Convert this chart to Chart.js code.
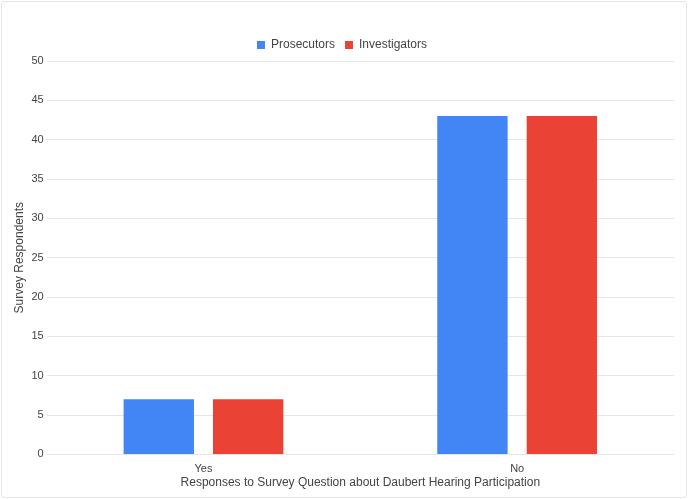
<!DOCTYPE html>
<html>
<head>
<meta charset="utf-8">
<script src="https://cdn.jsdelivr.net/npm/chart.js@4"></script>
<style>
  html, body { margin: 0; padding: 0; background: #fff; }
  #wrap { width: 684px; height: 495px; margin: 1px; border: 1px solid #e6e6e6; border-radius: 3px; position: relative; }
</style>
</head>
<body>
<div id="wrap"><canvas id="myChart"></canvas></div>
<script>
const categories = ["Yes", "No"];
const prosecutors = [7, 43];
const investigators = [7, 43];
const yTicks = [0, 5, 10, 15, 20, 25, 30, 35, 40, 45, 50];

const textColor = "#444";
Chart.defaults.font.family = "'Liberation Sans', Arial, sans-serif";
Chart.defaults.font.size = 11;
Chart.defaults.color = textColor;

const ctx = document.getElementById("myChart").getContext("2d");
const myChart = new Chart(ctx, {
    type: "bar",
    data: {
        labels: categories,
        datasets: [{
            label: "Prosecutors",
            data: prosecutors,
            backgroundColor: "#4285F4",
            categoryPercentage: 0.57,
            barPercentage: 0.787,
        }, {
            label: "Investigators",
            data: investigators,
            backgroundColor: "#EA4335",
            categoryPercentage: 0.57,
            barPercentage: 0.787,
        }],
    },
    options: {
        responsive: true,
        maintainAspectRatio: false,
        animation: false,
        layout: { padding: { top: 27, right: 12, left: 8, bottom: 7 } },
        plugins: {
            legend: {
                position: "top",
                labels: { boxWidth: 8, boxHeight: 8, padding: 10, font: { size: 12 } },
            },
            tooltip: { enabled: false },
        },
        scales: {
            x: {
                grid: { display: false },
                border: { display: false },
                ticks: { padding: 0 },
                title: {
                    display: true,
                    text: "Responses to Survey Question about Daubert Hearing Participation",
                    font: { size: 12 },
                    padding: { top: 0, bottom: 0 },
                },
            },
            y: {
                min: 0,
                max: 50,
                afterBuildTicks: (axis) => { axis.ticks = yTicks.map(v => ({ value: v })); },
                grid: { color: "#e6e6e6", drawTicks: false },
                border: { display: false },
                ticks: { padding: 3 },
                title: {
                    display: true,
                    text: "Survey Respondents",
                    font: { size: 12 },
                    padding: { top: 2, bottom: 2 },
                },
            },
        },
    },
});
</script>
</body>
</html>
